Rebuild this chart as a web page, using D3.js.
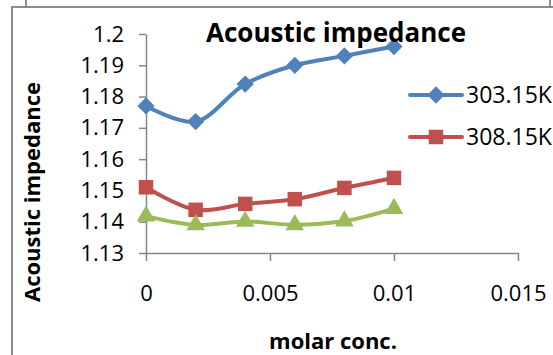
<!DOCTYPE html>
<html>
<head>
<meta charset="utf-8">
<script src="https://cdn.jsdelivr.net/npm/d3@7"></script>
<style>
  html, body { margin: 0; padding: 0; background: #fff; }
  svg { display: block; }
  text { font-family: "Open Sans", "Noto Sans", sans-serif; fill: #000; }
</style>
</head>
<body>
<svg id="chart" width="553" height="355"></svg>
<script>
// ——— data ————————————————————————————————————————
const conc    = [0, 0.002, 0.004, 0.006, 0.008, 0.010];
const k303    = [1.177, 1.172, 1.184, 1.190, 1.193, 1.196];
const k308    = [1.151, 1.1438, 1.1457, 1.1472, 1.1508, 1.154];
const k313    = [1.1418, 1.139, 1.1401, 1.139, 1.1402, 1.1442];
const xTicks  = [0, 0.005, 0.01, 0.015];
const yTicks  = [1.13, 1.14, 1.15, 1.16, 1.17, 1.18, 1.19, 1.2];
const seriesNames = ["303.15K", "308.15K", "313.15K"];
const legendNames = ["303.15K", "308.15K"];   // third entry is cut off in the source

const series = [
  {name: seriesNames[0], values: k303, color: "#4F81BD", marker: "diamond"},
  {name: seriesNames[1], values: k308, color: "#C0504D", marker: "square"},
  {name: seriesNames[2], values: k313, color: "#9BBB59", marker: "triangle"},
];

const svg = d3.select("#chart");
const axisGrey = "#868686";

// ——— frame fragments ————————————————————————————
const frame = svg.append("g").attr("stroke", "#8c8c8c").attr("stroke-width", 2).attr("fill", "none");
frame.append("path").attr("d", "M12,355V7H553");
frame.append("path").attr("d", "M26,0V7");
frame.append("path").attr("d", "M550,0V7");

// ——— scales ———————————————————————————————————
const x = d3.scaleLinear([0, 0.015], [146, 518]);
const y = d3.scaleLinear([1.13, 1.2], [253, 34]);

// ——— axes ————————————————————————————————————
const yAxis = svg.append("g")
  .attr("transform", `translate(${x(0)},0)`)
  .call(d3.axisLeft(y).tickValues(yTicks).tickSize(7).tickSizeOuter(0)
        .tickPadding(15).tickFormat(d => String(+d.toFixed(2))));

const xAxis = svg.append("g")
  .attr("transform", `translate(0,${y(1.13)})`)
  .call(d3.axisBottom(x).tickValues(xTicks).tickSize(8).tickSizeOuter(0)
        .tickPadding(24).tickFormat(d => String(d)));

[yAxis, xAxis].forEach(g => {
  g.attr("font-size", null).attr("font-family", null);
  g.selectAll("path, line").attr("stroke", axisGrey).attr("stroke-width", 1.5);
  g.selectAll("text").attr("font-size", 22).attr("fill", "#000");
});

// ——— lines ————————————————————————————————————
const line = d3.line()
  .x((d, i) => x(conc[i]))
  .y(d => y(d))
  .curve(d3.curveCatmullRom.alpha(0.5));

const markerPath = {
  diamond:  d3.symbol(d3.symbolDiamond2, 190),
  square:   d3.symbol(d3.symbolSquare, 210),
  triangle: d3.symbol(d3.symbolTriangle, 150),
};

series.forEach(s => {
  const g = svg.append("g");
  g.append("path")
    .attr("d", line(s.values))
    .attr("fill", "none")
    .attr("stroke", s.color)
    .attr("stroke-width", 4)
    .attr("stroke-linecap", "round");
  g.selectAll("path.pt").data(s.values).enter().append("path")
    .attr("class", "pt")
    .attr("transform", (d, i) => `translate(${x(conc[i])},${y(d)})`)
    .attr("d", markerPath[s.marker]())
    .attr("fill", s.color);
});

// ——— title & axis titles ——————————————————————
svg.append("text")
  .attr("x", 336).attr("y", 42)
  .attr("text-anchor", "middle")
  .attr("font-size", 26).attr("font-weight", "bold")
  .text("Acoustic impedance");

svg.append("text")
  .attr("transform", "translate(40,192) rotate(-90)")
  .attr("text-anchor", "middle")
  .attr("font-size", 22).attr("font-weight", "bold")
  .text("Acoustic impedance");

svg.append("text")
  .attr("x", 333).attr("y", 349)
  .attr("text-anchor", "middle")
  .attr("font-size", 22).attr("font-weight", "bold")
  .text("molar conc.");

// ——— legend ——————————————————————————————————
const legend = svg.append("g");
legendNames.forEach((name, i) => {
  const s = series.find(d => d.name === name);
  const ly = 95 + i * 42;
  legend.append("line")
    .attr("x1", 410).attr("x2", 462).attr("y1", ly).attr("y2", ly)
    .attr("stroke", s.color).attr("stroke-width", 4).attr("stroke-linecap", "round");
  legend.append("path")
    .attr("transform", `translate(436,${ly})`)
    .attr("d", markerPath[s.marker]())
    .attr("fill", s.color);
  legend.append("text")
    .attr("x", 466).attr("y", ly).attr("dy", "0.35em")
    .attr("font-size", 23)
    .text(name);
});
</script>
</body>
</html>
